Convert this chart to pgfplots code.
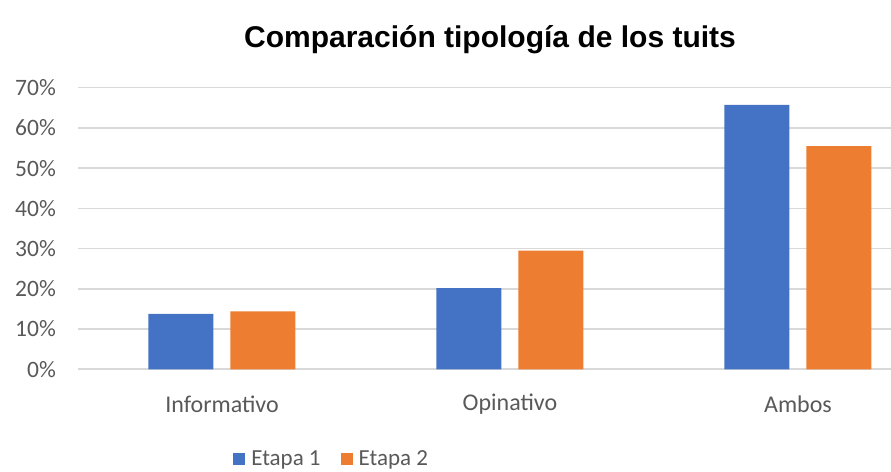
\documentclass[border=0pt]{standalone}
\usepackage{pgfplots}
\pgfplotsset{compat=1.18}
\usepackage{fontspec}
\setmainfont{Carlito}
\newfontfamily\titlefont{Liberation Sans}
\definecolor{bblue}{HTML}{4472C4}
\definecolor{borange}{HTML}{ED7D31}
\definecolor{tgray}{HTML}{595959}
\definecolor{ggray}{HTML}{D9D9D9}
\begin{document}
\begin{tikzpicture}
\path[use as bounding box] (0,0) rectangle (891bp,472bp);
\node[font=\titlefont\bfseries\fontsize{30bp}{34bp}\selectfont, text=black] at (490bp,432bp) {Comparación tipología de los tuits};
\begin{axis}[
  at={(78bp,102.7bp)}, anchor=south west,
  scale only axis, width=813bp, height=281.6bp,
  xmin=-0.5, xmax=2.323, ymin=0, ymax=70,
  ybar=17bp, bar width=65bp,
  axis line style={draw=none},
  major tick length=0,
  ymajorgrids, grid style={ggray, line width=1.6bp},
  ytick={0,10,...,70},
  yticklabel={\pgfmathprintnumber{\tick}\%},
  /pgf/number format/assume math mode=true,
  yticklabel style={anchor=east, inner sep=0pt, xshift=-22bp, text=tgray, font=\fontsize{23.5bp}{28bp}\selectfont},
  xtick={0,1,2},
  xticklabels={Informativo, Opinativo, Ambos},
  xticklabel style={anchor=center, yshift=-34.7bp, text=tgray, font=\fontsize{24bp}{28bp}\selectfont},
  legend columns=2,
  legend style={at={(0.312,-0.318)}, anchor=center, draw=none, fill=none,
    font=\fontsize{23bp}{28bp}\selectfont, text=tgray,
    /tikz/every even column/.append style={column sep=18bp}},
  legend image code/.code={\fill[#1] (0bp,-6bp) rectangle (12bp,6bp); \path (16bp,0bp);},
  clip=false,
]
\addplot[fill=bblue, draw=none] coordinates {(0,13.8) (1,20.2) (2,65.7)};
\addplot[fill=borange, draw=none] coordinates {(0,14.4) (1,29.5) (2,55.5)};
\legend{Etapa 1, Etapa 2}
\end{axis}
\end{tikzpicture}
\end{document}
